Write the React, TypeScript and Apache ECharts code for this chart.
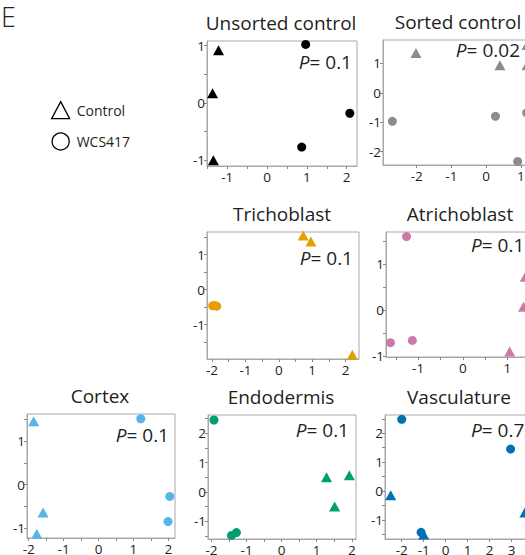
import React, { useEffect, useRef } from 'react';
import * as echarts from 'echarts';

const FONT = '"Open Sans", Lato, sans-serif';

// ---- data (PC1, PC2) ----
const unsortedControl = [[-1.22, 0.92], [-1.37, 0.17], [-1.35, -1.0]];
const unsortedWCS = [[0.97, 1.02], [2.08, -0.18], [0.87, -0.77]];

const sortedControl = [[-2.02, 1.35], [0.4, 0.93], [1.18, 0.93], [1.18, 1.62]];
const sortedWCS = [[-2.7, -0.97], [0.27, -0.8], [1.17, -0.68], [0.91, -2.33]];

const trichoControl = [[0.73, 1.55], [0.96, 1.38], [2.2, -1.86]];
const trichoWCS = [[-1.98, -0.46], [-1.92, -0.45], [-1.86, -0.47]];

const atrichoControl = [[1.05, -0.9], [1.36, 0.07], [1.4, 0.72]];
const atrichoWCS = [[-1.26, 1.59], [-1.62, -0.71], [-1.13, -0.66]];

const cortexControl = [[-1.86, 1.46], [-1.59, -0.64], [-1.77, -1.13]];
const cortexWCS = [[1.21, 1.52], [2.04, -0.27], [1.99, -0.85]];

const endoControl = [[1.28, 0.5], [1.93, 0.57], [1.51, -0.49]];
const endoWCS = [[-1.93, 2.45], [-1.43, -1.48], [-1.29, -1.38]];

const vascControl = [[-2.5, -0.15], [-1.0, -1.5], [3.6, -0.74]];
const vascWCS = [[-2.0, 2.48], [2.95, 1.45], [-1.12, -1.43]];

// ---- titles, P values, tick labels ----
const titles = ['Unsorted control', 'Sorted control', 'Trichoblast', 'Atrichoblast', 'Cortex', 'Endodermis', 'Vasculature'];
const pValues = ['0.1', '0.02', '0.1', '0.1', '0.1', '0.1', '0.7'];
const xTickLabels = [[-1, 0, 1, 2], [-2, -1, 0, 1], [-2, -1, 0, 1, 2], [-1, 0, 1], [-2, -1, 0, 1, 2], [-2, -1, 0, 1, 2], [-2, -1, 0, 1, 2, 3, 4]];
const yTickLabels = [[-1, 0, 1], [-2, -1, 0, 1], [-1, 0, 1], [-1, 0, 1], [-1, 0, 1], [-1, 0, 1, 2], [-1, 0, 1, 2]];
const legendNames = ['Control', 'WCS417'];

// ---- layout / style per panel ----
const panels = [
  { control: unsortedControl, wcs: unsortedWCS, color: '#000000', box: [207, 41, 150, 125], x: [-1.51, 2.26], y: [-1.1, 1.08], xStep: 0.5, yStep: 0.5, pAlign: 'right', pPos: [352, 62] },
  { control: sortedControl, wcs: sortedWCS, color: '#8c8c8c', box: [383, 40, 152, 125], x: [-2.97, 1.41], y: [-2.45, 1.79], xStep: 1, yStep: 1, pAlign: 'right', pPos: [520, 50] },
  { control: trichoControl, wcs: trichoWCS, color: '#E69F00', box: [207, 232, 152, 127], x: [-2.15, 2.4], y: [-1.98, 1.65], xStep: 0.5, yStep: 0.5, pAlign: 'right', pPos: [353, 258] },
  { control: atrichoControl, wcs: atrichoWCS, color: '#CC79A7', box: [386, 232, 150, 125], x: [-1.72, 1.64], y: [-1.02, 1.69], xStep: 0.5, yStep: 0.5, pAlign: 'left', pPos: [471, 245] },
  { control: cortexControl, wcs: cortexWCS, color: '#56B4E9', box: [27, 414, 148, 124], x: [-2.05, 2.19], y: [-1.23, 1.63], xStep: 0.5, yStep: 0.5, pAlign: 'right', pPos: [169, 435] },
  { control: endoControl, wcs: endoWCS, color: '#009E73', box: [208, 415, 148, 124], x: [-2.1, 2.12], y: [-1.6, 2.62], xStep: 0.5, yStep: 0.5, pAlign: 'right', pPos: [349, 430] },
  { control: vascControl, wcs: vascWCS, color: '#0072B2', box: [385, 415, 150, 124], x: [-2.76, 4.06], y: [-1.66, 2.63], xStep: 1, yStep: 0.5, pAlign: 'left', pPos: [471, 430] },
];

function ticks(min: number, max: number, step: number) {
  const out: number[] = [];
  const start = Math.ceil(min / step - 1e-9);
  for (let k = start; k * step <= max + 1e-9; k++) out.push(+(k * step).toFixed(3));
  return out;
}

const BORDER = '#a8a8a8';
const TEXT = '#231f20';

function buildOption() {
  const grid = panels.map((p) => ({
    left: p.box[0], top: p.box[1], width: p.box[2], height: p.box[3],
    show: true, borderColor: BORDER, borderWidth: 1, backgroundColor: 'transparent',
    containLabel: false, outerBoundsMode: 'none',
  }));
  const xAxis = panels.map((p, i) => ({
    type: 'value', gridIndex: i, min: p.x[0], max: p.x[1], position: 'bottom',
    splitLine: { show: false },
    axisLine: { show: true, onZero: false, lineStyle: { color: BORDER, width: 1 } },
    axisTick: { show: true, length: 3, lineStyle: { color: '#888' }, customValues: ticks(p.x[0], p.x[1], p.xStep) },
    axisLabel: { customValues: xTickLabels[i], fontSize: 13.5, color: TEXT, margin: 4, fontFamily: FONT, formatter: (v: number) => String(v) },
  }));
  const yAxis = panels.map((p, i) => ({
    type: 'value', gridIndex: i, min: p.y[0], max: p.y[1], position: 'left',
    splitLine: { show: false },
    axisLine: { show: true, onZero: false, lineStyle: { color: BORDER, width: 1 } },
    axisTick: { show: true, length: 3, lineStyle: { color: '#888' }, customValues: ticks(p.y[0], p.y[1], p.yStep) },
    axisLabel: { customValues: yTickLabels[i], fontSize: 13.5, color: TEXT, margin: 2, fontFamily: FONT, formatter: (v: number) => String(v) },
  }));
  const series: any[] = [];
  panels.forEach((p, i) => {
    series.push({
      type: 'scatter', name: legendNames[0], xAxisIndex: i, yAxisIndex: i, data: p.control,
      symbol: 'triangle', symbolSize: [11, 10], clip: false, itemStyle: { color: p.color, opacity: 1 },
    });
    series.push({
      type: 'scatter', name: legendNames[1], xAxisIndex: i, yAxisIndex: i, data: p.wcs,
      symbol: 'circle', symbolSize: 9, clip: false, itemStyle: { color: p.color, opacity: 1 },
    });
  });
  const graphic: any[] = [];
  panels.forEach((p, i) => {
    graphic.push({
      type: 'text', x: p.box[0] + p.box[2] / 2 - 1, y: p.box[1] - 18,
      style: { text: titles[i], fontSize: 19, fontFamily: FONT, fill: TEXT, align: 'center', verticalAlign: 'middle' },
    });
    graphic.push({
      type: 'text', x: p.pPos[0], y: p.pPos[1], z: 10,
      style: {
        text: '{i|P}= ' + pValues[i], fontSize: 19, fontFamily: FONT, fill: TEXT,
        align: p.pAlign, verticalAlign: 'middle',
        rich: { i: { fontStyle: 'italic', fontSize: 19, fontFamily: FONT, fill: TEXT } },
      },
    });
  });
  graphic.push({
    type: 'text', x: 1, y: 16,
    style: { text: 'E', fontSize: 27, lineHeight: 26, fontWeight: 300, fontFamily: FONT, fill: TEXT, align: 'left', verticalAlign: 'middle' },
  });
  return {
    animation: false,
    textStyle: { fontFamily: FONT },
    legend: {
      orient: 'vertical', left: 51, top: 101, itemWidth: 18, itemHeight: 17, itemGap: 13, padding: 0,
      selectedMode: false, textStyle: { fontSize: 14, color: TEXT, fontFamily: FONT, padding: [0, 0, 0, 2] },
      data: [
        { name: legendNames[0], icon: 'triangle', itemStyle: { color: '#ffffff', borderColor: '#000', borderWidth: 1.3 } },
        { name: legendNames[1], icon: 'circle', itemStyle: { color: '#ffffff', borderColor: '#000', borderWidth: 1.3 } },
      ],
    },
    grid, xAxis, yAxis, series, graphic,
  };
}

export default function App() {
  const ref = useRef<HTMLDivElement>(null);
  useEffect(() => {
    if (!ref.current) return;
    const chart = echarts.init(ref.current, undefined, { renderer: 'svg' });
    chart.setOption(buildOption() as any);
    return () => chart.dispose();
  }, []);
  return (
    <div style={{ position: 'absolute', left: 0, top: 0, width: 525, height: 555, overflow: 'hidden', background: '#fff' }}>
      <div ref={ref} style={{ width: 525, height: 555 }} />
    </div>
  );
}
